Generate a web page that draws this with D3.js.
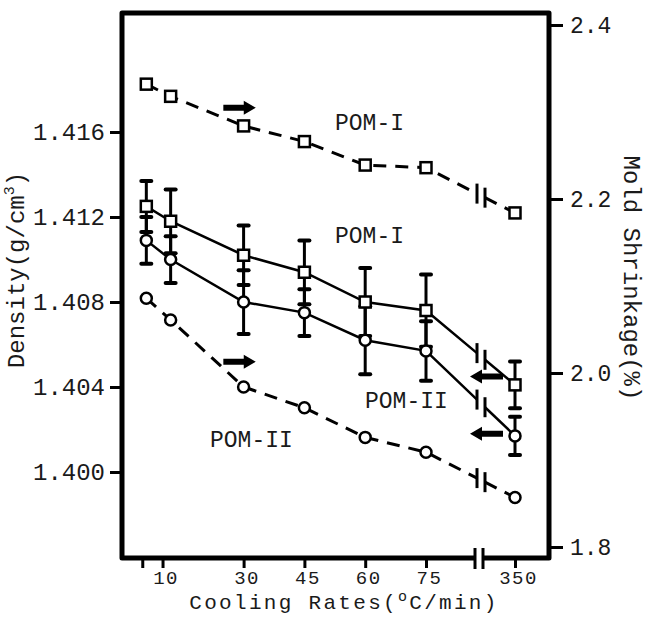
<!DOCTYPE html>
<html>
<head>
<meta charset="utf-8">
<script src="https://cdn.jsdelivr.net/npm/d3@7"></script>
<style>
body { margin: 0; background: #fff; }
svg text { font-family: "Liberation Mono", "DejaVu Sans Mono", monospace; fill: #1a1a1a; }
</style>
</head>
<body>
<svg width="646" height="631"></svg>
<script>
// cooling rates of the measured points, and the ticks along the bottom
let rates = [6, 12, 30, 45, 60, 75, 350]
let tickRates = [5, 10, 30, 45, 60, 75, 350]
let tickLabels = ["", "10", "30", "45", "60", "75", "350"]
let densityTicks = [1.400, 1.404, 1.408, 1.412, 1.416]
let shrinkTicks = [1.8, 2.0, 2.2, 2.4]

// density (left axis), with error bars
let densityPOM1 = [1.4125, 1.4118, 1.4102, 1.4094, 1.4080, 1.4076, 1.4041]
let densityPOM1Err = [0.0012, 0.0015, 0.0014, 0.0015, 0.0016, 0.0017, 0.0011]
let densityPOM2 = [1.4109, 1.4100, 1.4080, 1.4075, 1.4062, 1.4057, 1.4017]
let densityPOM2Err = [0.0011, 0.0011, 0.0015, 0.0011, 0.0016, 0.0014, 0.0009]

// mold shrinkage (right axis)
let shrinkPOM1 = [2.332, 2.318, 2.284, 2.266, 2.239, 2.236, 2.184]
let shrinkPOM2 = [2.086, 2.061, 1.984, 1.960, 1.926, 1.909, 1.857]

let svg = d3.select("svg")
let margin = {top: 13, right: 97, bottom: 73, left: 122}
let width = +svg.attr("width") - margin.left - margin.right
let height = +svg.attr("height") - margin.top - margin.bottom

let x = d3.scaleLinear().domain([0, 75, 350]).range([0, 304, 393])
let yD = d3.scaleLinear().domain([1.400, 1.416]).range([459, 119])
let yS = d3.scaleLinear().domain([1.8, 2.4]).range([534, 12])

let g = svg.append("g")
    .attr("transform", "translate(" + margin.left + "," + margin.top + ")")

// where the axis (and the lines) are broken between 75 and 350
let bx1 = x(75) + 51
let bx2 = bx1 + 8

// axes
let left = g.append("g")
    .call(d3.axisLeft(yD).tickValues(densityTicks).tickSize(12).tickPadding(5).tickFormat(d3.format(".3f")))
left.select(".domain").remove()
left.selectAll("line").attr("stroke-width", 3)
left.selectAll("text").attr("font-size", 24)

let right = g.append("g")
    .attr("transform", "translate(" + width + ",0)")
    .call(d3.axisRight(yS).tickValues(shrinkTicks).tickSize(14).tickPadding(7).tickFormat(d3.format(".1f")))
right.select(".domain").remove()
right.selectAll("line").attr("stroke-width", 3)
right.selectAll("text").attr("font-size", 23)

let bottom = g.append("g")
    .attr("transform", "translate(0," + height + ")")
    .call(d3.axisBottom(x).tickValues(tickRates).tickSize(10).tickPadding(3).tickFormat((d, i) => tickLabels[i]))
bottom.select(".domain").remove()
bottom.selectAll("line").attr("stroke-width", 3)
bottom.selectAll("text").attr("font-size", 19).attr("letter-spacing", 1.5).attr("dx", 3)

// heavy frame, open at the break
g.append("path")
    .attr("d", "M" + (bx1 - 2) + "," + height + "H0V0H" + width + "V" + height + "H" + (bx2 - 2))
    .attr("fill", "none")
    .attr("stroke", "#000")
    .attr("stroke-width", 5)
    .attr("stroke-linejoin", "round")

g.selectAll(".axbreak")
  .data([bx1 - 2, bx2 - 2])
  .enter().append("line")
    .attr("x1", d => d).attr("x2", d => d)
    .attr("y1", height - 10).attr("y2", height + 11)
    .attr("stroke", "#000")
    .attr("stroke-width", 3)

// a series drawn in two pieces with break marks between 75 and 350
function drawSeries(values, y, dashed){
  let pts = values.map((v, i) => [x(rates[i]), y(v)])
  let a = pts[5], b = pts[6]
  let at = bx => [bx, a[1] + (b[1] - a[1]) * (bx - a[0]) / (b[0] - a[0])]
  let p1 = at(bx1), p2 = at(bx2)
  let line = d3.line()

  let segs = [pts.slice(0, 6).concat([p1]), [p2, b]]
  g.selectAll(null)
    .data(segs)
    .enter().append("path")
      .attr("d", line)
      .attr("fill", "none")
      .attr("stroke", "#000")
      .attr("stroke-width", dashed ? 3 : 2.5)
      .attr("stroke-dasharray", dashed ? "13,9" : null)

  g.selectAll(null)
    .data([p1, p2])
    .enter().append("line")
      .attr("x1", d => d[0]).attr("x2", d => d[0])
      .attr("y1", d => d[1] - 10).attr("y2", d => d[1] + 10)
      .attr("stroke", "#000")
      .attr("stroke-width", 3)

  return pts
}

function drawErrors(values, errs){
  let eg = g.append("g").attr("stroke", "#000")
  values.forEach((v, i) => {
    let cx = x(rates[i])
    eg.append("line")
      .attr("x1", cx).attr("x2", cx)
      .attr("y1", yD(v + errs[i])).attr("y2", yD(v - errs[i]))
      .attr("stroke-width", 3)
    ;[v + errs[i], v - errs[i]].forEach(e => {
      eg.append("line")
        .attr("x1", cx - 5).attr("x2", cx + 5)
        .attr("y1", yD(e)).attr("y2", yD(e))
        .attr("stroke-width", 4)
        .attr("stroke-linecap", "round")
    })
  })
}

function drawMarkers(pts, marker){
  let mg = g.append("g")
  if (marker == "square") {
    mg.selectAll("rect").data(pts).enter().append("rect")
      .attr("x", d => d[0] - 5.5).attr("y", d => d[1] - 5.5)
      .attr("width", 11).attr("height", 11)
      .attr("fill", "#fff").attr("stroke", "#000").attr("stroke-width", 2.5)
  } else {
    mg.selectAll("circle").data(pts).enter().append("circle")
      .attr("cx", d => d[0]).attr("cy", d => d[1]).attr("r", 5.5)
      .attr("fill", "#fff").attr("stroke", "#000").attr("stroke-width", 2.5)
  }
}

drawErrors(densityPOM1, densityPOM1Err)
drawErrors(densityPOM2, densityPOM2Err)
drawMarkers(drawSeries(densityPOM1, yD, false), "square")
drawMarkers(drawSeries(densityPOM2, yD, false), "circle")
drawMarkers(drawSeries(shrinkPOM1, yS, true), "square")
drawMarkers(drawSeries(shrinkPOM2, yS, true), "circle")

// arrows telling which axis each curve belongs to
function arrow(x0, x1, y){
  let dir = x1 > x0 ? 1 : -1
  let hx = x1 - dir * 12
  g.append("path")
    .attr("d", "M" + x0 + "," + (y - 3) + "L" + hx + "," + (y - 3) + "L" + hx + "," + (y - 7) +
      "L" + x1 + "," + y + "L" + hx + "," + (y + 7) + "L" + hx + "," + (y + 3) + "L" + x0 + "," + (y + 3) + "Z")
    .attr("fill", "#000")
}
arrow(x(25), x(33), yS(2.305))
arrow(x(25), x(33), yS(2.013))
arrow(x(350) - 12, x(350) - 45, yD(1.4045))
arrow(x(350) - 12, x(350) - 45, yD(1.4018))

// curve labels
let labels = [
  {t: "POM-I", x: 213, y: 117},
  {t: "POM-I", x: 213, y: 230},
  {t: "POM-II", x: 243, y: 395},
  {t: "POM-II", x: 88, y: 434}
]
g.selectAll(".lab")
  .data(labels)
  .enter().append("text")
    .attr("x", d => d.x).attr("y", d => d.y)
    .attr("font-size", 23)
    .text(d => d.t)

// axis titles
let xt = svg.append("text")
    .attr("x", 344).attr("y", 609)
    .attr("text-anchor", "middle")
    .attr("font-size", 21)
    .attr("letter-spacing", 2.3)
xt.append("tspan").text("Cooling Rates(")
xt.append("tspan").attr("font-size", 15).attr("dy", -8).text("o")
xt.append("tspan").attr("dy", 8).text("C/min)")

let lt = svg.append("text")
    .attr("transform", "translate(24,270) rotate(-90)")
    .attr("text-anchor", "middle")
    .attr("font-size", 24)
lt.append("tspan").text("Density(g/cm")
lt.append("tspan").attr("font-size", 15).attr("dy", -10).text("3")
lt.append("tspan").attr("dy", 10).text(")")

svg.append("text")
    .attr("transform", "translate(624,278) rotate(90)")
    .attr("text-anchor", "middle")
    .attr("font-size", 24)
    .text("Mold Shrinkage(%)")
</script>
</body>
</html>
